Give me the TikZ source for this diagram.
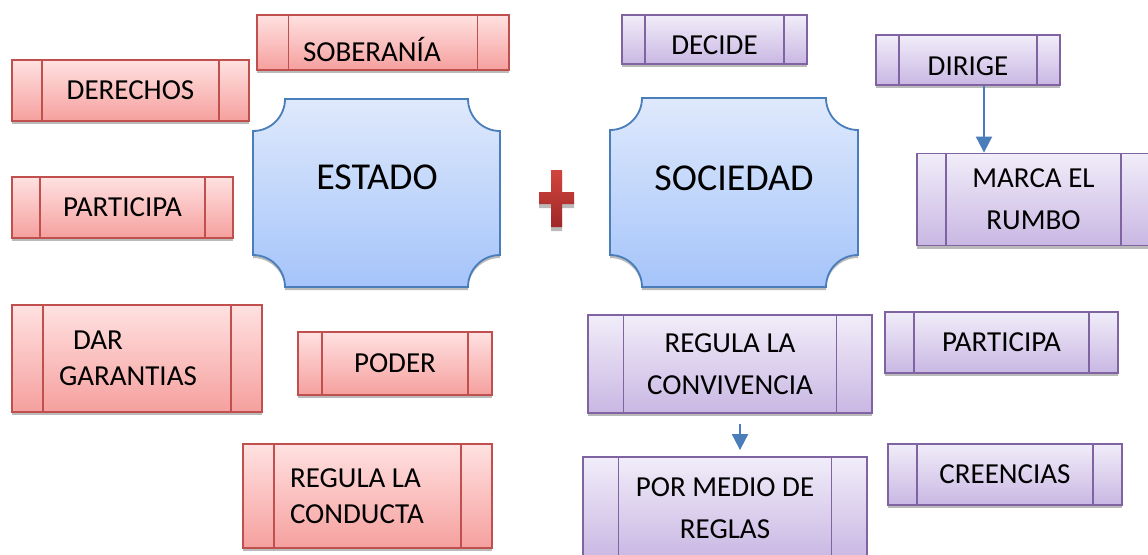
\documentclass[tikz,border=0pt]{standalone}
\usepackage{fontspec}
\setmainfont{Carlito}
\usepackage{tikz}
\usepackage{xcolor}
\usetikzlibrary{calc, shadows, arrows.meta}

\definecolor{rojoborde}{RGB}{192,80,77}
\definecolor{rojoarriba}{RGB}{255,225,225}
\definecolor{rojoabajo}{RGB}{245,160,158}
\definecolor{moradoborde}{RGB}{128,100,162}
\definecolor{moradoarriba}{RGB}{241,237,249}
\definecolor{moradoabajo}{RGB}{201,183,227}
\definecolor{azulborde}{RGB}{74,126,187}
\definecolor{azularriba}{RGB}{223,233,252}
\definecolor{azulabajo}{RGB}{165,196,250}
\definecolor{cruzarriba}{RGB}{210,68,62}
\definecolor{cruzabajo}{RGB}{158,40,40}

\tikzset{
    sombra/.style={drop shadow={shadow xshift=0pt, shadow yshift=-#1, fill=black!45, opacity=0.6}},
    caja/.style={rectangle, draw=#1, line width=1.8pt, inner sep=0pt, align=center, sombra=3pt,
        path picture={
            \draw[#1, line width=1.8pt]
                ($(path picture bounding box.north west)!0.125!(path picture bounding box.north east)$) --
                ($(path picture bounding box.south west)!0.125!(path picture bounding box.south east)$)
                ($(path picture bounding box.north west)!0.875!(path picture bounding box.north east)$) --
                ($(path picture bounding box.south west)!0.875!(path picture bounding box.south east)$);
        }},
    cajaroja/.style={caja=rojoborde, top color=rojoarriba, bottom color=rojoabajo, font=\fontsize{29}{36}\selectfont},
    cajamorada/.style={caja=moradoborde, top color=moradoarriba, bottom color=moradoabajo, font=\fontsize{29}{42}\selectfont},
    forma/.style={draw=azulborde, line width=1.8pt, top color=azularriba, bottom color=azulabajo, sombra=3pt},
    titulo/.style={font=\fontsize{38}{44}\selectfont},
    flecha/.style={draw=azulborde, line width=2pt, -{Triangle[width=16pt, length=16pt]}}
}

\begin{document}
\begin{tikzpicture}[x=1pt, y=1pt]
            \useasboundingbox (0,0) rectangle (1148,-554);

            \path[forma] (285,-99) -- (468,-99) arc[start angle=180, end angle=270, radius=32pt] -- (500,-255) arc[start angle=90, end angle=180, radius=32pt] -- (285,-287) arc[start angle=0, end angle=90, radius=32pt] -- (253,-131) arc[start angle=270, end angle=360, radius=32pt] -- cycle;
            \path[forma] (642,-98) -- (826,-98) arc[start angle=180, end angle=270, radius=32pt] -- (858,-255) arc[start angle=90, end angle=180, radius=32pt] -- (642,-287) arc[start angle=0, end angle=90, radius=32pt] -- (610,-255) -- (610,-130) arc[start angle=270, end angle=360, radius=32pt] -- cycle;
            \node[titulo] (estado) at (377,-177) {ESTADO};
            \node[titulo] (sociedad) at (734,-178) {SOCIEDAD};

            \path[top color=cruzarriba, bottom color=cruzabajo, sombra=4pt] (551,-170) -- (562,-170) -- (562,-192) -- (574,-192) -- (574,-204) -- (562,-204) -- (562,-227) -- (551,-227) -- (551,-204) -- (539,-204) -- (539,-192) -- (551,-192) -- cycle;

            \node[cajaroja, minimum width=252pt, minimum height=55pt, inner xsep=46pt, text width=160pt, align=flush left, text height=39pt] (soberania) at (383,-42.5) {SOBERANÍA};
            \node[cajaroja, minimum width=237pt, minimum height=61pt] (derechos) at (130.5,-90.5) {DERECHOS};
            \node[cajaroja, minimum width=221pt, minimum height=61pt] (participa) at (122.5,-207.5) {PARTICIPA};
            \node[cajaroja, minimum width=250pt, minimum height=107pt, inner xsep=47pt, text width=156pt, align=flush left] (garantias) at (137,-358.5) {\hspace*{14pt}DAR\\GARANTIAS};
            \node[cajaroja, minimum width=194pt, minimum height=63pt] (poder) at (395,-363.5) {PODER};
            \node[cajaroja, minimum width=249pt, minimum height=104pt, inner xsep=47pt, text width=155pt, align=flush left] (conducta) at (367.5,-496) {REGULA LA\\CONDUCTA};

            \node[cajamorada, minimum width=185pt, minimum height=49pt, text height=30pt] (decide) at (714.5,-39.5) {DECIDE};
            \node[cajamorada, minimum width=184pt, minimum height=50pt, text height=31pt] (dirige) at (968,-60) {DIRIGE};
            \node[cajamorada, minimum width=233pt, minimum height=92pt] (rumbo) at (1033.5,-199.5) {MARCA EL\\RUMBO};
            \node[cajamorada, minimum width=284pt, minimum height=98pt] (convivencia) at (730,-364) {REGULA LA\\CONVIVENCIA};
            \node[cajamorada, minimum width=233pt, minimum height=61pt] (participa2) at (1001.5,-342.5) {PARTICIPA};
            \node[cajamorada, minimum width=284pt, minimum height=102pt] (reglas) at (725,-508) {POR MEDIO DE\\REGLAS};
            \node[cajamorada, minimum width=234pt, minimum height=61pt] (creencias) at (1005,-474.5) {CREENCIAS};

            \draw[flecha] ([xshift=16pt]dirige.south) -- ([xshift=16pt]dirige.south |- rumbo.north);
            \draw[flecha] ([xshift=10pt, yshift=-10pt]convivencia.south) -- ([xshift=15pt, yshift=6pt]reglas.north);
        \end{tikzpicture}
\end{document}
